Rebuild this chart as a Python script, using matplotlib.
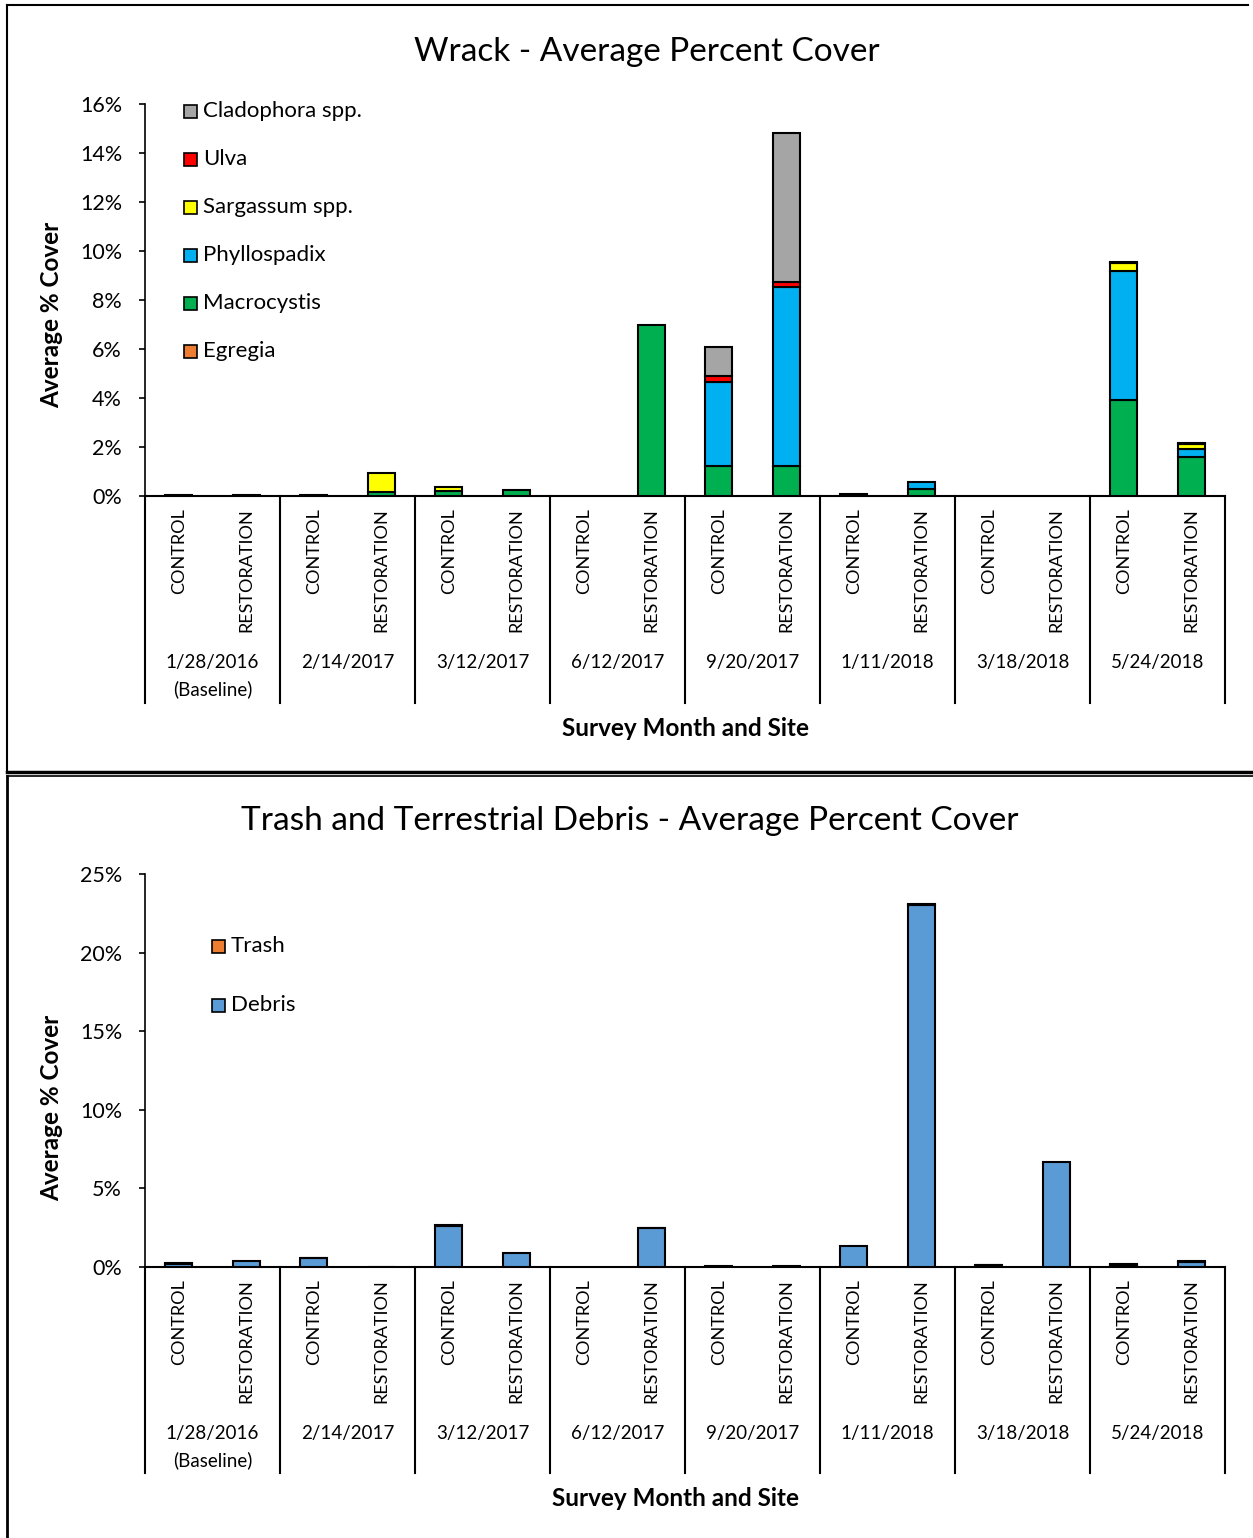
import numpy as np
import matplotlib.pyplot as plt
from matplotlib.lines import Line2D
from matplotlib.ticker import FuncFormatter

plt.rcParams['font.family'] = ['Lato', 'DejaVu Sans']

W, H = 1253, 1538

dates = ['1/28/2016\n(Baseline)', '2/14/2017', '3/12/2017', '6/12/2017',
         '9/20/2017', '1/11/2018', '3/18/2018', '5/24/2018']
sites = ['CONTROL', 'RESTORATION']

# wrack cover (%), one value per bar: control/restoration for each survey
egregia = [0, 0, 0, 0, 0, 0, 0, 0, 0, 0, 0, 0, 0, 0, 0, 0]
macrocystis = [0, 0, 0, 0.15, 0.2, 0.24, 0, 7.0, 1.22, 1.22, 0, 0.28, 0, 0, 3.92, 1.6]
phyllospadix = [0, 0, 0, 0, 0, 0, 0, 0, 3.45, 7.32, 0, 0.3, 0, 0, 5.28, 0.32]
sargassum = [0, 0, 0, 0.77, 0.18, 0, 0, 0, 0, 0, 0, 0, 0, 0, 0.32, 0.2]
ulva = [0, 0, 0, 0, 0, 0, 0, 0, 0.24, 0.2, 0, 0, 0, 0, 0.04, 0.03]
cladophora = [0.05, 0.05, 0.05, 0, 0, 0, 0, 0, 1.18, 6.07, 0.08, 0, 0, 0, 0, 0]

# trash and debris cover (%)
debris = [0.2, 0.4, 0.55, 0.03, 2.6, 0.9, 0, 2.45, 0.04, 0.06, 1.35, 23.05, 0.12, 6.7, 0.15, 0.3]
trash = [0.03, 0, 0.05, 0, 0.1, 0, 0, 0.05, 0, 0, 0, 0.05, 0.03, 0, 0.05, 0.05]

wrack_series = [('Egregia', egregia, '#ED7D31'),
                ('Macrocystis', macrocystis, '#00B050'),
                ('Phyllospadix', phyllospadix, '#00B0F0'),
                ('Sargassum spp.', sargassum, '#FFFF00'),
                ('Ulva', ulva, '#FF0000'),
                ('Cladophora spp.', cladophora, '#A5A5A5')]
trash_series = [('Debris', debris, '#5B9BD5'),
                ('Trash', trash, '#ED7D31')]


def fx(px):
    return px / W


def fy(py):
    return 1 - py / H


def figline(fig, xs, ys, lw):
    fig.add_artist(Line2D([fx(x) for x in xs], [fy(y) for y in ys],
                          color='black', lw=lw, transform=fig.transFigure))


def stacked(ax, series):
    x = np.arange(16) + 0.5
    bottom = np.zeros(16)
    for name, vals, color in series:
        vals = np.array(vals, dtype=float)
        edges = ['black' if v > 0 else 'none' for v in vals]
        ax.bar(x, vals, 0.4, bottom=bottom, color=color, edgecolor=edges,
               linewidth=1.5, zorder=3)
        bottom += vals


def category_axis(ax, top_px, bottom_px, label_y, xlabel_pos):
    ax.set_xlim(0, 16)
    ax.set_xticks([])
    for s in ['top', 'right']:
        ax.spines[s].set_visible(False)
    ax.spines['left'].set_linewidth(1.2)
    ax.spines['bottom'].set_linewidth(1.5)
    ax.tick_params(axis='y', direction='out', length=4.5, width=1.2,
                   labelsize=15.5, pad=12)
    ax.yaxis.set_major_formatter(FuncFormatter(lambda v, p: f'{v:.0f}%'))
    fig = ax.figure
    x0, x1 = 145, 1225
    step = (x1 - x0) / 16
    for g in range(9):
        xp = x0 + g * 2 * step
        figline(fig, [xp, xp], [top_px, bottom_px], 1.5)
    for i in range(16):
        xp = x0 + (i + 0.5) * step
        fig.text(fx(xp), fy(top_px + 12), sites[i % 2], rotation=90,
                 ha='center', va='top', fontsize=13)
    for g, d in enumerate(dates):
        xp = x0 + (g * 2 + 1) * step
        fig.text(fx(xp), fy(label_y), d, ha='center', va='top',
                 fontsize=13.5, linespacing=1.6)
    fig.text(fx(xlabel_pos[0]), fy(xlabel_pos[1]), 'Survey Month and Site',
             ha='center', va='center', fontsize=17.5, fontweight='bold')


fig = plt.figure(figsize=(W / 100, H / 100), dpi=100)

# panel frames
figline(fig, [7, 7], [5, 772], 1.5)
figline(fig, [7, 1248], [5, 5], 1.5)
figline(fig, [7, 1253], [772, 772], 2.5)
figline(fig, [7, 1253], [776, 776], 1.2)
figline(fig, [7, 7], [776, 1538], 2.0)

# wrack chart
ax1 = fig.add_axes([fx(145), fy(496), fx(1080), 392 / H])
stacked(ax1, wrack_series)
ax1.set_ylim(0, 16)
ax1.set_yticks(np.arange(0, 17, 2))
category_axis(ax1, 496, 703, 654, (685, 729))
fig.text(fx(647), fy(52), 'Wrack - Average Percent Cover', ha='center',
         va='center', fontsize=24)
fig.text(fx(52), fy(315), 'Average % Cover', rotation=90, ha='center',
         va='center', fontsize=17.5, fontweight='bold')
for k, (name, vals, color) in enumerate(wrack_series[::-1]):
    yp = 111 + 48 * k
    fig.patches.append(plt.Rectangle((fx(184), fy(yp + 7)), fx(13), 13 / H,
                                     facecolor=color, edgecolor='black',
                                     lw=1.2, transform=fig.transFigure))
    fig.text(fx(203), fy(yp), name, ha='left', va='center', fontsize=16)

# trash and debris chart
ax2 = fig.add_axes([fx(145), fy(1267), fx(1080), 393 / H])
stacked(ax2, trash_series)
ax2.set_ylim(0, 25)
ax2.set_yticks(np.arange(0, 26, 5))
category_axis(ax2, 1267, 1473, 1425, (676, 1498))
fig.text(fx(630), fy(821), 'Trash and Terrestrial Debris - Average Percent Cover',
         ha='center', va='center', fontsize=24)
fig.text(fx(52), fy(1108), 'Average % Cover', rotation=90, ha='center',
         va='center', fontsize=17.5, fontweight='bold')
for k, (name, vals, color) in enumerate(trash_series[::-1]):
    yp = 946 + 59 * k
    fig.patches.append(plt.Rectangle((fx(212), fy(yp + 7)), fx(13), 13 / H,
                                     facecolor=color, edgecolor='black',
                                     lw=1.2, transform=fig.transFigure))
    fig.text(fx(231), fy(yp), name, ha='left', va='center', fontsize=16)

fig.savefig('out.png', dpi=100)
